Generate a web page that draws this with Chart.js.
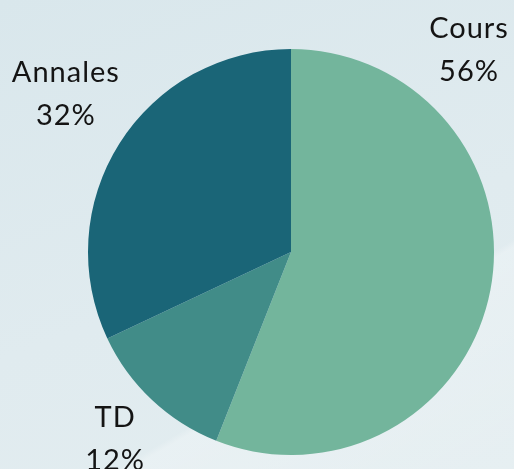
<!DOCTYPE html>
<html>
<head>
  <title>Répartition</title>
  <script src="https://cdn.jsdelivr.net/npm/chart.js"></script>
  <style>
    html, body { margin: 0; padding: 0; }
    body {
      width: 514px; height: 469px; overflow: hidden;
      background: linear-gradient(160deg, #d9e7ec 0%, #e0ebef 55%, #e3edf0 100%);
      position: relative;
    }
    .band {
      position: absolute; left: 0; top: 0; width: 514px; height: 469px;
      background: linear-gradient(150deg, rgba(255,255,255,0) 70%, rgba(255,255,255,0.25) 71%, rgba(255,255,255,0.1) 100%);
    }
    #chart { position: absolute; left: 0; top: 0; }
  </style>
</head>
<body>
  <div class="band"></div>
  <canvas id="chart" width="514" height="469"></canvas>
  <script>
    const labels = ['Cours', 'TD', 'Annales'];
    const values = [56, 12, 32];
    const colors = ['#73b59c', '#418c88', '#1a6577'];
    // label placement per slice: angle (deg, clockwise from top) and distance in radii
    const labelAngle = [39.6, 225.3, 306.9];
    const labelDist = [1.368, 1.226, 1.393];

    const total = values.reduce((a, b) => a + b, 0);

    // draw name + percentage outside each slice
    const outsideLabels = {
      id: 'outsideLabels',
      afterDatasetsDraw(chart) {
        const ctx = chart.ctx;
        const meta = chart.getDatasetMeta(0);
        ctx.save();
        ctx.font = '400 29px Lato';
        ctx.letterSpacing = '1px';
        ctx.fillStyle = '#141414';
        ctx.textAlign = 'center';
        ctx.textBaseline = 'alphabetic';
        meta.data.forEach((arc, i) => {
          const a = labelAngle[i] * Math.PI / 180;
          const r = arc.outerRadius * labelDist[i];
          const x = arc.x + r * Math.sin(a) + 1;
          const y = arc.y - r * Math.cos(a);
          const pct = Math.round(values[i] / total * 100) + '%';
          ctx.fillText(labels[i], x, y);
          ctx.fillText(pct, x, y + 43);
        });
        ctx.restore();
      }
    };

    new Chart(document.getElementById('chart').getContext('2d'), {
      type: 'pie',
      data: {
        labels: labels,
        datasets: [{
          data: values,
          backgroundColor: colors,
          borderWidth: 0
        }]
      },
      options: {
        responsive: false,
        animation: false,
        layout: { padding: { left: 88, right: 20, top: 49, bottom: 14 } },
        plugins: {
          legend: { display: false },
          tooltip: { enabled: false }
        }
      },
      plugins: [outsideLabels]
    });
  </script>
</body>
</html>
